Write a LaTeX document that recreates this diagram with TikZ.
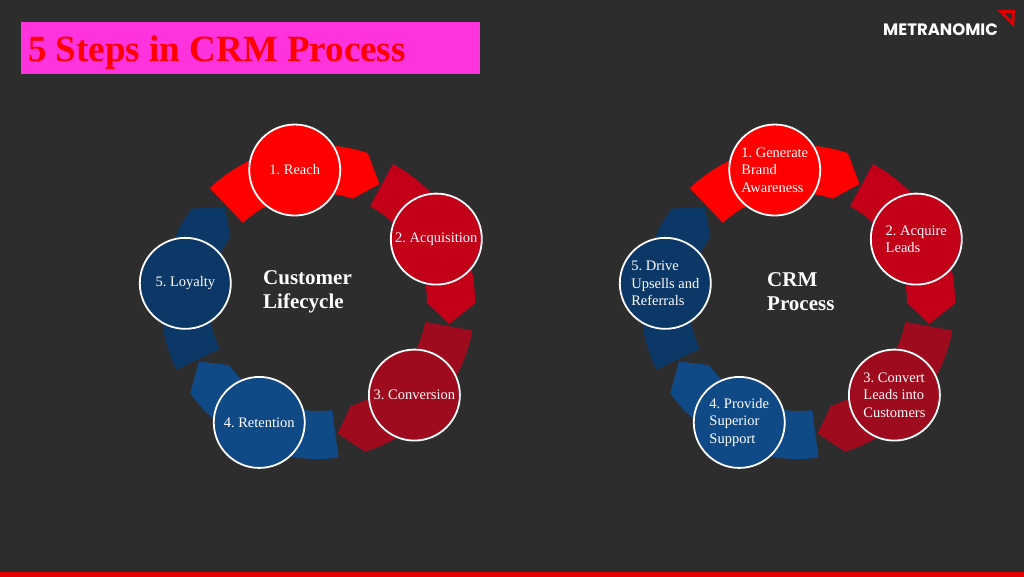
\documentclass[tikz,border=0pt]{standalone}
\usepackage{fontspec}
\setmainfont{Liberation Serif}
\newfontfamily\logofont{Poppins}
\usetikzlibrary{calc}
\frenchspacing
\definecolor{bggray}{HTML}{2D2D2D}
\definecolor{titlepink}{HTML}{FF33DD}
\definecolor{stepA}{HTML}{FF0000}
\definecolor{stepB}{HTML}{C20018}
\definecolor{stepC}{HTML}{9E0A1E}
\definecolor{stepD}{HTML}{0F4A86}
\definecolor{stepE}{HTML}{0C3868}
\newcommand{\segarrow}[3]{% centre, angle, colour
  \fill[#3] ($(#1)+(#2+33.5:157)$) arc[start angle=#2+33.5, end angle=#2-28.5, radius=157]
    -- ($(#1)+(#2-37.5:133)$) -- ($(#1)+(#2-28.5:109)$)
    arc[start angle=#2-28.5, end angle=#2+33.5, radius=109] -- cycle;}
\tikzset{stepcirc/.style={circle, draw=white, line width=1.8pt, minimum size=91pt, inner sep=0pt,
    text=white, align=left, font=\fontsize{14.5}{17.5}\selectfont}}

\begin{document}
\begin{tikzpicture}[x=1pt, y=1pt]
				\fill[bggray] (0,0) rectangle (1024,577);
				\useasboundingbox (0,0) rectangle (1024,577);
				\fill[red!90!black] (0,0) rectangle (1024,4.5);
				% title and logo
				\node[fill=titlepink, minimum width=459pt, minimum height=52pt, inner sep=0pt] (titlebox) at (250.5,529) {};
				\node[anchor=base west, inner sep=0pt, text=red, font=\fontsize{37}{40}\selectfont\bfseries] (title) at (28,515) {5 Steps in CRM Process};
				\node[anchor=west, inner sep=0pt, text=white, font=\logofont\fontsize{16.5}{19}\selectfont\bfseries] (logo) at (883,547) {METRANOMIC};
				\draw[red!90!black, line width=2.6pt, line join=miter] (1001,565.5) -- (1013.5,565.5) -- (1013,553) -- cycle;
				% cycle centres
				\coordinate (lc) at (318,275);
				\coordinate (rc) at (798,275);
				% arrows
				\segarrow{lc}{100}{stepA}
				\segarrow{lc}{28}{stepB}
				\segarrow{lc}{-44}{stepC}
				\segarrow{lc}{-116}{stepD}
				\segarrow{lc}{-188}{stepE}
				\segarrow{rc}{100}{stepA}
				\segarrow{rc}{28}{stepB}
				\segarrow{rc}{-44}{stepC}
				\segarrow{rc}{-116}{stepD}
				\segarrow{rc}{-188}{stepE}
				% nodes
				\node[stepcirc, fill=stepA] (reach) at ($(lc)+(100:134)$) {1. Reach};
				\node[stepcirc, fill=stepB] (acq) at ($(lc)+(28:134)$) {2. Acquisition};
				\node[stepcirc, fill=stepC] (conv) at ($(lc)+(-44:134)$) {3. Conversion};
				\node[stepcirc, fill=stepD] (ret) at ($(lc)+(-116:134)$) {4. Retention};
				\node[stepcirc, fill=stepE] (loy) at ($(lc)+(172:134)$) {5. Loyalty};
				\node[anchor=west, align=left, text=white, inner sep=0pt, font=\fontsize{21}{24}\selectfont\bfseries] (lcname) at (263,285) {Customer\\Lifecycle};
				\node[stepcirc, fill=stepA] (brand) at ($(rc)+(100:134)$) {1. Generate\\Brand\\Awareness};
				\node[stepcirc, fill=stepB] (leads) at ($(rc)+(28:134)$) {2. Acquire\\Leads};
				\node[stepcirc, fill=stepC] (convert) at ($(rc)+(-44:134)$) {3. Convert\\Leads into\\Customers};
				\node[stepcirc, fill=stepD] (support) at ($(rc)+(-116:134)$) {4. Provide\\Superior\\Support};
				\node[stepcirc, fill=stepE] (upsell) at ($(rc)+(172:134)$) {5. Drive\\Upsells and\\Referrals};
				\node[anchor=west, align=left, text=white, inner sep=0pt, font=\fontsize{21}{24}\selectfont\bfseries] (rcname) at (767,285) {CRM\\Process};
			\end{tikzpicture}
\end{document}
